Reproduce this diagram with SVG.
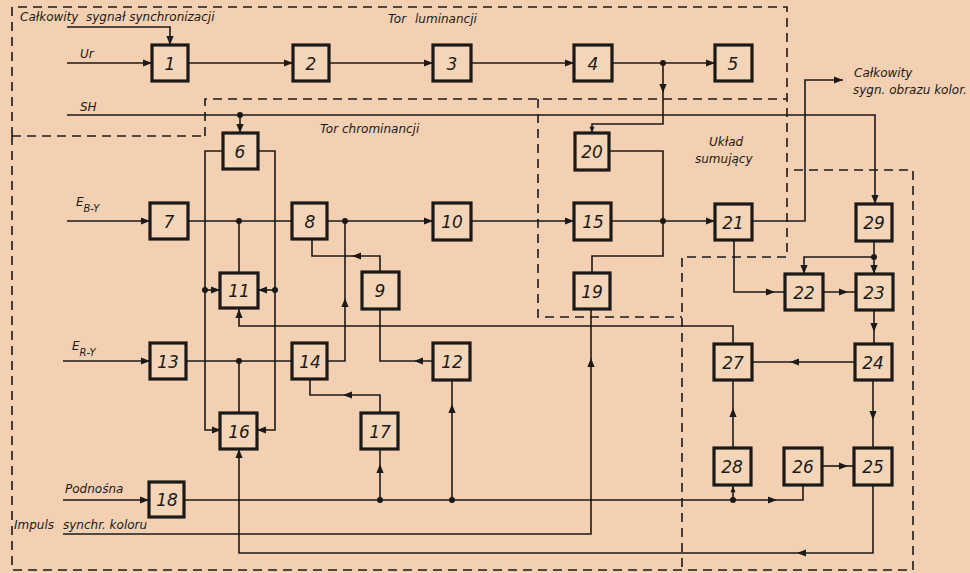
<svg xmlns="http://www.w3.org/2000/svg" xmlns:xlink="http://www.w3.org/1999/xlink" width="970" height="573" viewBox="0 0 970 573">
<style>
.bg{fill:#f3d0b2}
.box rect{fill:#f5d5b8;stroke:#1c1a18;stroke-width:3.2}
.box text{font-family:"DejaVu Sans","Liberation Sans",sans-serif;font-style:italic;font-size:17px;fill:#1c1a18;text-anchor:middle}
.ln{fill:none;stroke:#1c1a18;stroke-width:1.6}
.dash{fill:none;stroke:#1c1a18;stroke-width:1.6;stroke-dasharray:9,6}
.lbl{font-family:"DejaVu Sans","Liberation Sans",sans-serif;font-style:italic;font-size:12px;fill:#1c1a18}
.dot{fill:#1c1a18}
.ah{fill:#1c1a18}
</style>
<defs>
<path id="a" class="ah" d="M0,0 L-9,-3.6 L-9,3.6 Z"/>
</defs>
<rect class="bg" x="0" y="0" width="970" height="573"/>

<g id="regions">
<path class="dash" d="M12,136 V7 H787 V257 H682 V570"/>
<path class="dash" d="M205,136 V99 H787"/>
<path class="dash" d="M12,136 H205"/>
<path class="dash" d="M12,136 V570 H913 V170 H787"/>
<path class="dash" d="M538,99 V317 H682"/>
</g>

<g id="labels">
<text class="lbl" x="20" y="21">Całkowity</text>
<text class="lbl" x="86" y="21">sygnał synchronizacji</text>
<text class="lbl" x="80" y="58">Ur</text>
<text class="lbl" x="80" y="111">SH</text>
<text class="lbl" x="76" y="206" font-size="13">E<tspan font-size="10" dy="6">B-Y</tspan></text>
<text class="lbl" x="72" y="350" font-size="13">E<tspan font-size="10" dy="6">R-Y</tspan></text>
<text class="lbl" x="65" y="493">Podnośna</text>
<text class="lbl" x="14" y="529">Impuls</text>
<text class="lbl" x="63" y="529">synchr. koloru</text>
<text class="lbl" x="388" y="23">Tor</text>
<text class="lbl" x="415" y="23">luminancji</text>
<text class="lbl" x="320" y="133">Tor chrominancji</text>
<text class="lbl" x="709" y="146">Układ</text>
<text class="lbl" x="695" y="163">sumujący</text>
<text class="lbl" x="854" y="77">Całkowity</text>
<text class="lbl" x="853" y="94">sygn. obrazu kolor.</text>
</g>

<g id="connectors">
<path class="ln" d="M67,27 H170 V45"/><use xlink:href="#a" transform="translate(170,45) rotate(90)"/>
<path class="ln" d="M67,63 H152"/><use xlink:href="#a" transform="translate(152,63)"/>
<path class="ln" d="M188,63 H293"/><use xlink:href="#a" transform="translate(293,63)"/>
<path class="ln" d="M329,63 H433"/><use xlink:href="#a" transform="translate(433,63)"/>
<path class="ln" d="M471,63 H574"/><use xlink:href="#a" transform="translate(574,63)"/>
<path class="ln" d="M612,63 H715"/><use xlink:href="#a" transform="translate(715,63)"/>
<circle class="dot" cx="663" cy="63" r="3"/>
<path class="ln" d="M663,63 V124 H592 V133"/><use xlink:href="#a" transform="translate(663,93) rotate(90)"/><use xlink:href="#a" transform="translate(592,133) rotate(90) scale(0.7)"/>
<path class="ln" d="M67,115 H875 V204"/><use xlink:href="#a" transform="translate(875,204) rotate(90)"/>
<circle class="dot" cx="240" cy="115" r="3"/>
<path class="ln" d="M240,115 V133"/><use xlink:href="#a" transform="translate(240,133) rotate(90)"/>
<path class="ln" d="M223,151 H205 V430 H221"/><use xlink:href="#a" transform="translate(221,430)"/>
<circle class="dot" cx="205" cy="290" r="3"/>
<path class="ln" d="M205,290 H220"/><use xlink:href="#a" transform="translate(220,290)"/>
<path class="ln" d="M258,151 H275 V430 H257"/><use xlink:href="#a" transform="translate(257,430) rotate(180)"/>
<circle class="dot" cx="275" cy="290" r="3"/>
<path class="ln" d="M275,290 H258"/><use xlink:href="#a" transform="translate(258,290) rotate(180)"/>
<path class="ln" d="M67,221 H150"/><use xlink:href="#a" transform="translate(150,221)"/>
<path class="ln" d="M188,221 H292"/>
<circle class="dot" cx="239" cy="221" r="3"/>
<path class="ln" d="M239,221 V273"/>
<path class="ln" d="M733,344 V326 H239 V309"/><use xlink:href="#a" transform="translate(239,309) rotate(-90)"/>
<path class="ln" d="M312,239 V256 H380 V273"/><use xlink:href="#a" transform="translate(352,256) rotate(180)"/>
<path class="ln" d="M380,309 V361 H433"/><use xlink:href="#a" transform="translate(414,361) rotate(180)"/>
<path class="ln" d="M327,221 H433"/><use xlink:href="#a" transform="translate(433,221)"/>
<circle class="dot" cx="345" cy="221" r="3"/>
<path class="ln" d="M345,221 V361 H327"/><use xlink:href="#a" transform="translate(345,298) rotate(-90)"/>
<path class="ln" d="M471,221 H574"/><use xlink:href="#a" transform="translate(574,221)"/>
<path class="ln" d="M611,221 H715"/><use xlink:href="#a" transform="translate(715,221)"/>
<circle class="dot" cx="663" cy="221" r="3"/>
<path class="ln" d="M609,151 H663 V221"/>
<path class="ln" d="M592,273 V256 H663 V221"/>
<path class="ln" d="M63,534 H591 V309"/><use xlink:href="#a" transform="translate(591,358) rotate(-90)"/>
<path class="ln" d="M239,449 V553 H873 V485"/><use xlink:href="#a" transform="translate(239,449) rotate(-90)"/><use xlink:href="#a" transform="translate(797,553) rotate(180)"/>
<path class="ln" d="M63,361 H150"/><use xlink:href="#a" transform="translate(150,361)"/>
<path class="ln" d="M186,361 H292"/>
<circle class="dot" cx="239" cy="361" r="3"/>
<path class="ln" d="M239,361 V413"/>
<path class="ln" d="M310,379 V395 H380 V413"/><use xlink:href="#a" transform="translate(343,395) rotate(180)"/>
<path class="ln" d="M380,449 V500"/><use xlink:href="#a" transform="translate(380,464) rotate(-90)"/>
<circle class="dot" cx="380" cy="500" r="3"/>
<path class="ln" d="M452,500 V380"/><use xlink:href="#a" transform="translate(452,404) rotate(-90)"/>
<circle class="dot" cx="452" cy="500" r="3"/>
<path class="ln" d="M63,500 H149"/><use xlink:href="#a" transform="translate(149,500)"/>
<path class="ln" d="M184,500 H803 V485"/><use xlink:href="#a" transform="translate(777,500)"/>
<circle class="dot" cx="733" cy="500" r="3"/>
<path class="ln" d="M733,500 V485"/><use xlink:href="#a" transform="translate(733,486) rotate(-90) scale(0.7)"/>
<path class="ln" d="M733,448 V380"/><use xlink:href="#a" transform="translate(733,408) rotate(-90)"/>
<path class="ln" d="M822,466 H854"/><use xlink:href="#a" transform="translate(848,466)"/>
<path class="ln" d="M873,380 V448"/><use xlink:href="#a" transform="translate(873,420) rotate(90)"/>
<path class="ln" d="M855,362 H752"/><use xlink:href="#a" transform="translate(790,362) rotate(180)"/>
<path class="ln" d="M874,310 V344"/><use xlink:href="#a" transform="translate(874,332) rotate(90)"/>
<path class="ln" d="M823,292 H856"/><use xlink:href="#a" transform="translate(848,292)"/>
<path class="ln" d="M734,240 V292 H785"/><use xlink:href="#a" transform="translate(775,292)"/>
<path class="ln" d="M874,240 V274"/><use xlink:href="#a" transform="translate(874,274) rotate(90)"/>
<circle class="dot" cx="874" cy="257" r="3"/>
<path class="ln" d="M874,257 H804 V274"/><use xlink:href="#a" transform="translate(804,274) rotate(90)"/>
<path class="ln" d="M752,221 H805 V80 H843"/><use xlink:href="#a" transform="translate(843,80)"/>
</g>

<g id="n1" class="box"><rect x="152" y="45" width="36" height="36"/><text x="170" y="70">1</text></g>
<g id="n2" class="box"><rect x="293" y="45" width="36" height="36"/><text x="311" y="70">2</text></g>
<g id="n3" class="box"><rect x="433" y="45" width="38" height="36"/><text x="452" y="70">3</text></g>
<g id="n4" class="box"><rect x="574" y="45" width="38" height="36"/><text x="593" y="70">4</text></g>
<g id="n5" class="box"><rect x="715" y="45" width="37" height="36"/><text x="733" y="70">5</text></g>
<g id="n6" class="box"><rect x="223" y="133" width="35" height="36"/><text x="240" y="158">6</text></g>
<g id="n20" class="box"><rect x="575" y="133" width="34" height="37"/><text x="592" y="158">20</text></g>
<g id="n7" class="box"><rect x="150" y="203" width="38" height="36"/><text x="169" y="228">7</text></g>
<g id="n8" class="box"><rect x="292" y="203" width="35" height="36"/><text x="310" y="228">8</text></g>
<g id="n10" class="box"><rect x="433" y="203" width="38" height="37"/><text x="452" y="228">10</text></g>
<g id="n15" class="box"><rect x="574" y="203" width="37" height="37"/><text x="593" y="228">15</text></g>
<g id="n21" class="box"><rect x="715" y="204" width="37" height="36"/><text x="733" y="229">21</text></g>
<g id="n29" class="box"><rect x="856" y="204" width="36" height="37"/><text x="874" y="229">29</text></g>
<g id="n11" class="box"><rect x="220" y="273" width="38" height="35"/><text x="239" y="297">11</text></g>
<g id="n9" class="box"><rect x="362" y="272" width="37" height="37"/><text x="380" y="297">9</text></g>
<g id="n19" class="box"><rect x="574" y="273" width="36" height="36"/><text x="592" y="298">19</text></g>
<g id="n22" class="box"><rect x="785" y="274" width="38" height="36"/><text x="804" y="299">22</text></g>
<g id="n23" class="box"><rect x="856" y="274" width="37" height="36"/><text x="874" y="299">23</text></g>
<g id="n13" class="box"><rect x="150" y="343" width="36" height="36"/><text x="168" y="368">13</text></g>
<g id="n14" class="box"><rect x="292" y="343" width="35" height="36"/><text x="310" y="368">14</text></g>
<g id="n12" class="box"><rect x="433" y="343" width="37" height="37"/><text x="452" y="368">12</text></g>
<g id="n27" class="box"><rect x="714" y="344" width="38" height="36"/><text x="733" y="369">27</text></g>
<g id="n24" class="box"><rect x="855" y="344" width="37" height="36"/><text x="873" y="369">24</text></g>
<g id="n16" class="box"><rect x="220" y="413" width="37" height="36"/><text x="239" y="438">16</text></g>
<g id="n17" class="box"><rect x="361" y="413" width="37" height="36"/><text x="380" y="438">17</text></g>
<g id="n28" class="box"><rect x="714" y="448" width="37" height="37"/><text x="732" y="473">28</text></g>
<g id="n26" class="box"><rect x="784" y="448" width="38" height="37"/><text x="803" y="473">26</text></g>
<g id="n25" class="box"><rect x="854" y="448" width="38" height="37"/><text x="873" y="473">25</text></g>
<g id="n18" class="box"><rect x="149" y="482" width="35" height="35"/><text x="167" y="506">18</text></g>
</svg>
